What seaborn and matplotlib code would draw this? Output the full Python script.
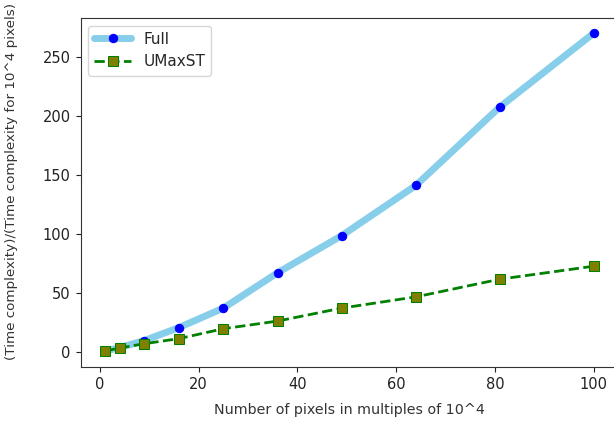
import matplotlib
matplotlib.use("Agg")
import matplotlib.pyplot as plt
import seaborn as sns
import pandas as pd

pixels = [1, 4, 9, 16, 25, 36, 49, 64, 81, 100]
full = [1, 4, 10, 21, 37.5, 67.5, 99, 141.5, 208, 270.5]
umaxst = [1, 3.7, 7.3, 11.6, 20, 26.5, 37.5, 47, 62, 73]

sns.set_style("ticks")
plt.rcParams['font.family'] = ['DejaVu Sans']

fig = plt.figure(figsize=(6.14, 4.21), dpi=100)
ax = fig.add_axes([80.5/614, 54/421, 537.5/614, 349/421])

df_full = pd.DataFrame({"x": pixels, "y": full})
df_u = pd.DataFrame({"x": pixels, "y": umaxst})

sns.lineplot(data=df_full, x="x", y="y", ax=ax, color="skyblue", linewidth=5,
             marker="o", markerfacecolor="blue", markeredgecolor="blue",
             markersize=6, label="Full")
sns.lineplot(data=df_u, x="x", y="y", ax=ax, color="green", linewidth=2,
             linestyle="--", marker="s", markerfacecolor="olive",
             markeredgecolor="green", markersize=7, label="UMaxST")

ax.set_xlim(-3.95, 104.95)
ax.set_ylim(-12.45, 283.45)
ax.set_xticks([0, 20, 40, 60, 80, 100])
ax.set_yticks([0, 50, 100, 150, 200, 250])
ax.tick_params(labelsize=10.5, colors="#222222")
for s in ax.spines.values():
    s.set_color("#333333")
ax.set_xlabel("Number of pixels in multiples of 10^4", fontsize=10.3, color="#333333", labelpad=8)
ax.set_ylabel("(Time complexity)/(Time complexity for 10^4 pixels)", fontsize=9.7, color="#333333")
ax.yaxis.set_label_coords(-0.116, 0.531)
ax.legend(loc="upper left", fontsize=11, frameon=True, handlelength=2.4)

fig.savefig("out.png", dpi=100)
